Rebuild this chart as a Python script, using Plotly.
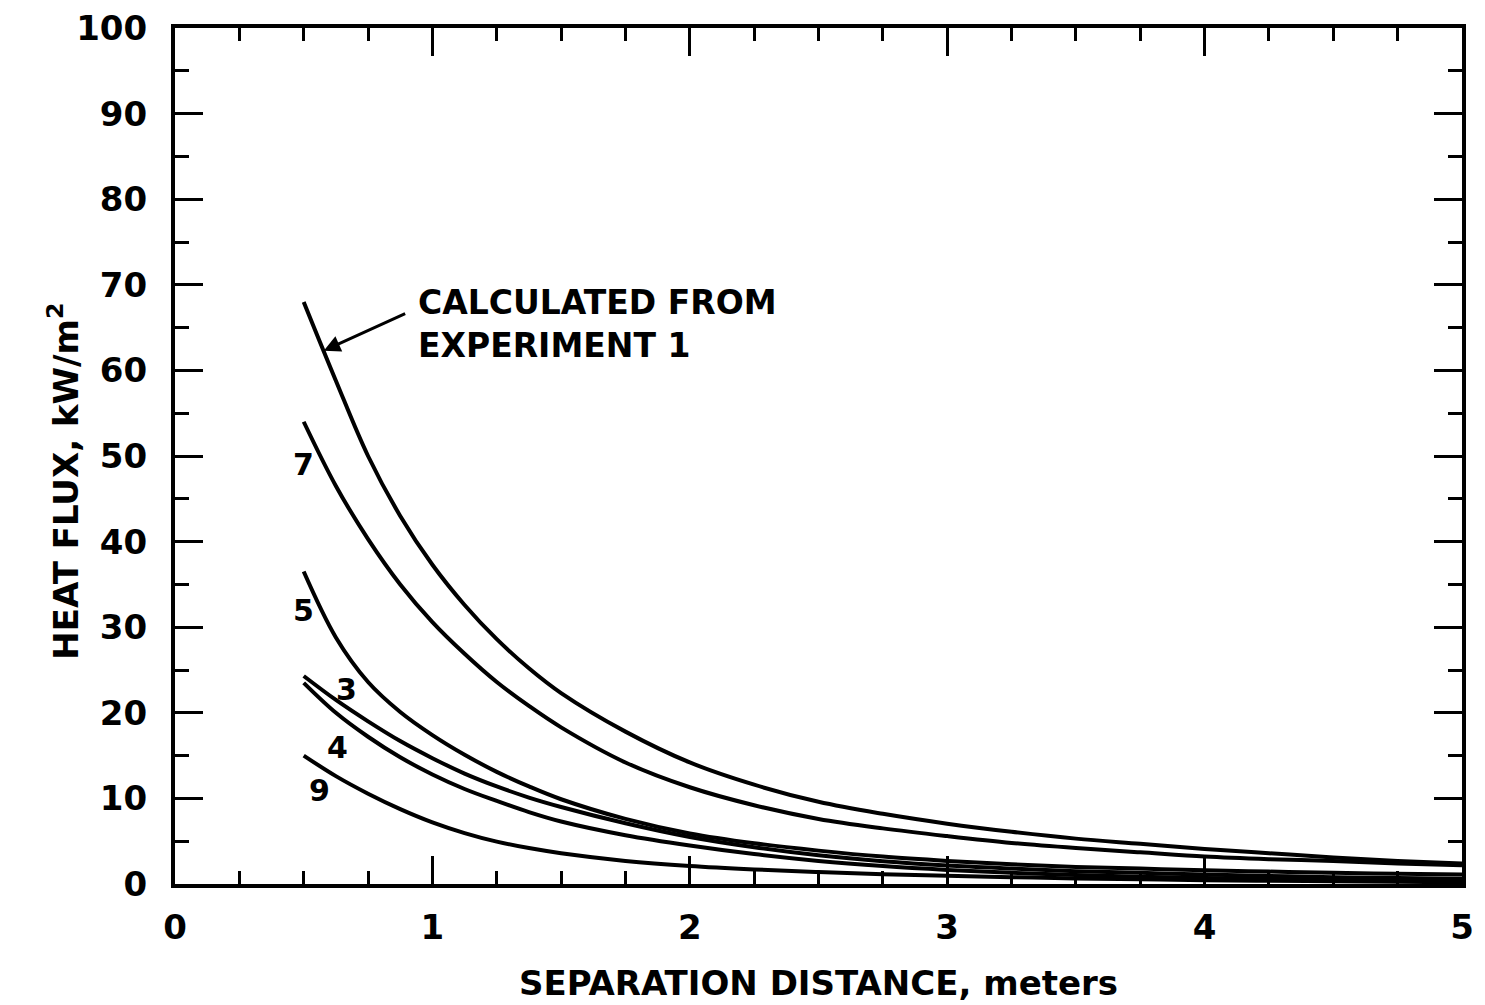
import plotly.graph_objects as go

# Separation distance (m) at which heat flux was evaluated
distance = [0.5, 0.625, 0.75, 0.875, 1.0, 1.125, 1.25, 1.375, 1.5, 1.75,
            2.0, 2.25, 2.5, 2.75, 3.0, 3.25, 3.5, 3.75, 4.0, 4.25, 4.5, 4.75, 5.0]

# Heat flux (kW/m^2) for each experiment
flux_exp1 = [68.0, 58.8, 50.0, 43.0, 37.3, 32.6, 28.6, 25.2, 22.3, 17.8,
             14.2, 11.6, 9.6, 8.2, 7.05, 6.1, 5.3, 4.7, 4.1, 3.6, 3.1, 2.7, 2.4]
flux_exp7 = [54.0, 46.5, 40.3, 35.0, 30.6, 26.9, 23.6, 20.8, 18.3, 14.2,
             11.3, 9.2, 7.6, 6.5, 5.6, 4.8, 4.2, 3.7, 3.2, 2.9, 2.7, 2.4, 2.2]
flux_exp5 = [36.5, 28.8, 23.6, 20.1, 17.4, 15.1, 13.1, 11.4, 9.9, 7.6,
             5.9, 4.75, 3.9, 3.2, 2.7, 2.3, 2.0, 1.8, 1.6, 1.45, 1.3, 1.2, 1.1]
flux_exp3 = [24.3, 21.5, 19.0, 16.7, 14.7, 12.9, 11.4, 10.1, 9.0, 7.1,
             5.5, 4.3, 3.35, 2.65, 2.15, 1.8, 1.5, 1.3, 1.1, 0.95, 0.8, 0.7, 0.6]
flux_exp4 = [23.5, 20.0, 17.2, 14.8, 12.8, 11.1, 9.7, 8.4, 7.3, 5.7,
             4.5, 3.5, 2.7, 2.1, 1.65, 1.3, 1.05, 0.85, 0.7, 0.6, 0.5, 0.45, 0.4]
flux_exp9 = [15.0, 12.6, 10.55, 8.75, 7.2, 5.95, 4.95, 4.2, 3.6, 2.7,
             2.1, 1.7, 1.4, 1.15, 0.95, 0.8, 0.65, 0.55, 0.45, 0.38, 0.32, 0.26, 0.2]

# Curve labels: text, x, y
curve_labels = ["7", "5", "3", "4", "9"]
label_x = [0.50, 0.50, 0.665, 0.63, 0.56]
label_y = [49.0, 32.0, 22.7, 15.9, 10.9]

x_ticks = [0, 1, 2, 3, 4, 5]
y_ticks = [0, 10, 20, 30, 40, 50, 60, 70, 80, 90, 100]

FONT = "DejaVu Sans"

fig = go.Figure()
for series in [flux_exp1, flux_exp7, flux_exp5, flux_exp3, flux_exp4, flux_exp9]:
    fig.add_trace(go.Scatter(
        x=distance, y=series, mode="lines",
        line=dict(color="black", width=4, shape="spline", smoothing=1.0),
        showlegend=False, hoverinfo="skip",
    ))

for txt, lx, ly in zip(curve_labels, label_x, label_y):
    fig.add_annotation(x=lx, y=ly, text=f"<b>{txt}</b>", showarrow=False,
                       font=dict(family=FONT, size=30, color="black"))

# Arrow pointing at the experiment 1 curve
fig.add_annotation(x=0.578, y=62.3, ax=0.90, ay=66.7, axref="x", ayref="y",
                   xref="x", yref="y", text="", showarrow=True,
                   arrowhead=2, arrowsize=1.1, arrowwidth=3, arrowcolor="black")
fig.add_annotation(x=0.935, y=65.4, xanchor="left", yanchor="middle", align="left",
                   text="<b>CALCULATED FROM<br>EXPERIMENT 1</b>", showarrow=False,
                   font=dict(family=FONT, size=33, color="black"))

# Y axis title drawn as a rotated annotation
fig.add_annotation(xref="paper", yref="paper", x=-0.087, y=0.47,
                   xanchor="center", yanchor="middle", textangle=-90,
                   text="<b>HEAT FLUX, kW/m<sup>2</sup></b>", showarrow=False,
                   font=dict(family=FONT, size=34, color="black"))

axis_common = dict(
    showline=True, linecolor="black", linewidth=4, mirror="ticks",
    ticks="inside", ticklen=28, tickwidth=3, tickcolor="black",
    showgrid=False, zeroline=False, automargin=False,
    tickfont=dict(family=FONT, size=34, color="black", weight="bold"),
)

fig.update_xaxes(
    range=[0, 5], tickvals=x_ticks, ticktext=[str(v) for v in x_ticks],
    minor=dict(dtick=0.25, ticks="inside", ticklen=13, tickwidth=3, tickcolor="black"),
    ticklabelstandoff=10,
    title=dict(text="<b>SEPARATION DISTANCE, meters</b>", standoff=26,
               font=dict(family=FONT, size=34, color="black")),
    **axis_common,
)
fig.update_yaxes(
    range=[0, 100], tickvals=y_ticks, ticktext=[str(v) for v in y_ticks],
    minor=dict(dtick=5, ticks="inside", ticklen=14, tickwidth=3, tickcolor="black"),
    ticklabelstandoff=17,
    **axis_common,
)

fig.update_layout(
    width=1485, height=1005,
    margin=dict(l=175, r=23, t=28, b=121),
    paper_bgcolor="white", plot_bgcolor="white",
)

fig.write_html("out.html")
